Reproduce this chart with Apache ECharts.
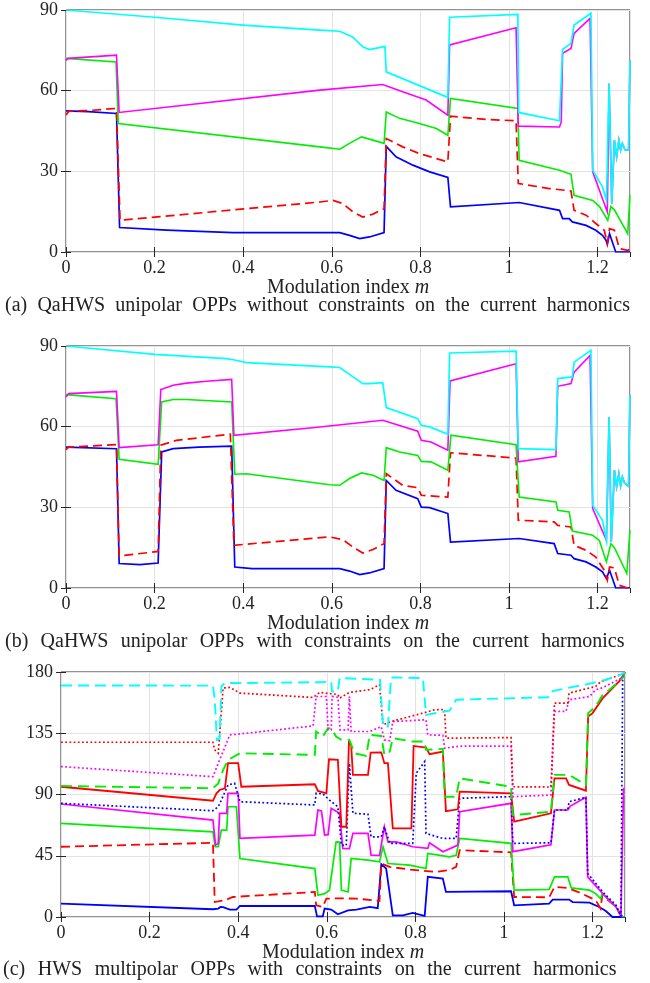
<!DOCTYPE html>
<html><head><meta charset="utf-8">
<script src="https://cdn.jsdelivr.net/npm/echarts@6/dist/echarts.min.js"></script>
<style>html,body{margin:0;padding:0;background:#fff}#c{width:650px;height:983px}</style>
</head><body><div id="c"></div>
<script>
const M_MAX = 1.2732;
const xTicks = [0, 0.2, 0.4, 0.6, 0.8, 1, 1.2];
const xTickLabels = ['0', '0.2', '0.4', '0.6', '0.8', '1', '1.2'];
const yTicksAB = [0, 30, 60, 90];
const yTicksC = [0, 45, 90, 135, 180];

// ---------- (a) ----------
const aBlue = [[0,52.5],[0.05,52.2],[0.114,51.5],[0.121,9.1],[0.227,8.1],[0.377,7.2],[0.573,7.2],[0.618,7.2],[0.64,6.2],[0.663,5.0],[0.685,5.6],[0.718,7.2],[0.723,39.3],[0.745,35.4],[0.783,32.3],[0.821,29.8],[0.862,27.7],[0.868,16.8],[1.023,18.4],[1.114,15.5],[1.121,12.4],[1.136,12.4],[1.143,11.2],[1.174,9.9],[1.196,8.1],[1.211,6.2],[1.219,4.4],[1.222,2.9],[1.227,6.8],[1.241,0],[1.273,0]];
const aRedD = [[0,51],[0.006,52.3],[0.05,52.6],[0.114,53.4],[0.122,11.8],[0.573,18.6],[0.603,19.2],[0.625,18],[0.648,14.9],[0.67,13],[0.693,14.1],[0.718,16.1],[0.723,42.2],[0.76,39.1],[0.798,36.6],[0.862,33.5],[0.868,50.5],[0.948,49.3],[1.016,48.8],[1.021,25.5],[1.023,24.8],[1.091,23.6],[1.14,22.7],[1.147,15.5],[1.174,13.7],[1.196,10.6],[1.215,8.1],[1.222,3.1],[1.227,8.7],[1.238,8.1],[1.249,1.3],[1.268,0.6],[1.273,1]];
const aGreen = [[0,72],[0.113,70.7],[0.118,47.8],[0.573,39.1],[0.618,38.2],[0.64,40.4],[0.667,42.8],[0.693,41.6],[0.718,40.4],[0.723,52.1],[0.753,49.7],[0.798,47.8],[0.836,45.9],[0.862,43.4],[0.868,57.1],[1.02,53.4],[1.023,34.1],[1.114,30.4],[1.14,28.9],[1.147,21.1],[1.189,19.2],[1.204,17.0],[1.223,11.8],[1.23,16.9],[1.238,15.7],[1.268,6.8],[1.273,21.1]];
const aMag = [[0,71.3],[0.005,72],[0.114,73.2],[0.12,51.9],[0.573,60.2],[0.715,62.3],[0.76,59.6],[0.813,56.5],[0.862,50.9],[0.866,77],[1.016,83.4],[1.021,46.8],[1.114,46.5],[1.118,48.3],[1.121,73.9],[1.14,75.7],[1.147,81.3],[1.183,86.9],[1.189,29.8],[1.222,14.9],[1.226,62.7],[1.232,18],[1.238,41.6],[1.243,35.4],[1.248,41.6],[1.252,37.9],[1.256,40.3],[1.262,38],[1.27,37.9],[1.273,71.3]];
const aCyan = [[0,90],[0.2,87.3],[0.4,84.4],[0.573,82.5],[0.618,82.1],[0.647,80],[0.67,76.3],[0.685,75.3],[0.715,76.3],[0.72,76.4],[0.723,67],[0.862,57.5],[0.866,87.3],[1.02,88.4],[1.022,51.9],[1.114,48.8],[1.121,75.3],[1.14,77.6],[1.147,84.4],[1.185,88.8],[1.189,30.4],[1.211,24.2],[1.22,19.2],[1.226,62.7],[1.232,18],[1.238,41.6],[1.243,35.4],[1.248,41.6],[1.252,37.9],[1.256,40.3],[1.262,38],[1.27,37.9],[1.273,71.3]];

// ---------- (b) ----------
const bBlue = [[0,52.4],[0.114,51.8],[0.12,9.1],[0.167,8.7],[0.208,9.3],[0.216,50.6],[0.242,51.8],[0.3,52.4],[0.374,52.8],[0.381,7.8],[0.42,7.2],[0.573,7.2],[0.618,7.2],[0.64,6.3],[0.663,5],[0.685,5.6],[0.718,7.2],[0.723,40],[0.745,36.3],[0.794,33.2],[0.802,30.1],[0.821,29.9],[0.862,27.7],[0.868,17.1],[1.023,18.4],[1.102,16.5],[1.11,12.8],[1.14,12.2],[1.147,10.9],[1.174,9.7],[1.196,7.8],[1.211,6],[1.22,3.5],[1.227,6.6],[1.241,0],[1.273,0]];
const bRedD = [[0,51.5],[0.006,52.4],[0.114,53.3],[0.12,11.9],[0.208,13.6],[0.214,53.1],[0.249,54.9],[0.371,57.2],[0.379,15.9],[0.595,19],[0.625,18],[0.648,15.2],[0.67,13],[0.693,14.3],[0.718,16.5],[0.723,42.5],[0.76,38.2],[0.794,37.3],[0.802,34.5],[0.862,33.8],[0.868,50.3],[1.016,48.3],[1.021,25.2],[1.102,24.6],[1.11,23.3],[1.14,22.7],[1.147,15.9],[1.174,14],[1.196,11.5],[1.215,6.6],[1.222,2.9],[1.227,7.8],[1.238,7.5],[1.249,1],[1.268,0],[1.273,0.5]];
const bGreen = [[0,71.9],[0.113,70.4],[0.12,47.9],[0.208,46],[0.216,69.2],[0.242,70.1],[0.272,70.1],[0.374,69.2],[0.381,42.3],[0.407,42.5],[0.595,38.4],[0.618,38.2],[0.64,40.7],[0.667,42.8],[0.693,41.9],[0.718,40],[0.723,52.2],[0.753,50.6],[0.794,49.3],[0.802,47.1],[0.824,46.9],[0.862,43.8],[0.869,56.8],[1.016,53.3],[1.023,33.8],[1.106,32],[1.11,28.9],[1.136,28.3],[1.143,21.2],[1.189,19.6],[1.204,17.7],[1.22,9.7],[1.23,16.5],[1.238,15],[1.266,5.4],[1.273,21.5]];
const bMag = [[0,71],[0.006,72.3],[0.114,73.1],[0.12,52.2],[0.208,53.3],[0.214,73.8],[0.242,75.4],[0.272,76.2],[0.317,76.9],[0.374,77.6],[0.379,56.8],[0.573,59.9],[0.715,62.4],[0.794,58.3],[0.802,54.9],[0.824,54.3],[0.862,51.2],[0.867,77],[1.016,83.4],[1.021,46.9],[1.106,49],[1.11,75],[1.14,76],[1.147,80.3],[1.183,86.5],[1.189,29.5],[1.22,17.7],[1.226,63.6],[1.231,17.1],[1.238,43.8],[1.243,37.6],[1.248,42.5],[1.252,37.9],[1.256,41.3],[1.261,39],[1.27,37.8],[1.273,71.7]];
const bCyan = [[0,90],[0.2,86.9],[0.362,85.3],[0.381,84.8],[0.407,83.8],[0.595,82.2],[0.618,82],[0.648,78.5],[0.67,76],[0.685,76],[0.715,76.4],[0.723,67.1],[0.794,63],[0.802,60.5],[0.821,59.9],[0.862,57.2],[0.866,87.4],[1.016,88.1],[1.021,51.8],[1.106,51.5],[1.11,77.9],[1.143,78.5],[1.147,84],[1.185,88.4],[1.189,30.8],[1.211,25.2],[1.22,17.7],[1.226,63.6],[1.231,17.1],[1.238,43.8],[1.243,37.6],[1.248,42.5],[1.252,37.9],[1.256,41.3],[1.261,39],[1.27,37.8],[1.273,71.7]];

// ---------- (c) ----------
const cBlue = [[0,9.9],[0.343,5.7],[0.355,6.2],[0.36,7.4],[0.366,7.2],[0.381,5.4],[0.396,5.4],[0.404,8.1],[0.573,8.1],[0.578,0.5],[0.591,0.5],[0.595,6.2],[0.61,5.5],[0.625,2],[0.648,4.9],[0.667,5.4],[0.697,7.4],[0.715,6.5],[0.723,38.8],[0.734,35.6],[0.749,1.2],[0.772,1.2],[0.794,3],[0.821,0.9],[0.828,29.5],[0.862,28.3],[0.869,18.4],[1.016,18.9],[1.023,8.6],[1.102,9.9],[1.11,12.8],[1.147,12.8],[1.155,11],[1.193,10.5],[1.215,7.4],[1.23,4.4],[1.245,0],[1.268,0],[1.273,0]];
const cRedD = [[0,51.6],[0.343,54.5],[0.347,11],[0.37,12.3],[0.388,14.7],[0.573,18.4],[0.576,8.6],[0.591,7.4],[0.599,13.5],[0.625,13.7],[0.667,13.5],[0.719,11.8],[0.723,39.3],[0.742,36.8],[0.787,34.9],[0.847,33.1],[0.877,34.5],[0.892,36.8],[0.9,49.1],[1.016,47.5],[1.023,14.7],[1.102,14.5],[1.114,22.1],[1.144,21.3],[1.176,17.2],[1.207,12.3],[1.218,6.2],[1.222,16],[1.253,7.4],[1.268,0],[1.273,0]];
const cGreen = [[0,68.8],[0.343,62.6],[0.348,51.6],[0.355,51.6],[0.362,63.9],[0.374,63.9],[0.377,81],[0.396,81],[0.404,43],[0.573,35.6],[0.58,16],[0.595,17.2],[0.606,19.7],[0.621,55.2],[0.629,55],[0.633,19.7],[0.648,18.4],[0.655,43],[0.693,41.8],[0.719,40.5],[0.727,51.6],[0.738,39.3],[0.787,38.1],[0.824,35.6],[0.828,46.7],[0.877,44.2],[0.892,45.4],[0.9,57.7],[1.016,54.1],[1.023,19.7],[1.102,20.3],[1.114,29.5],[1.144,29.5],[1.152,21.4],[1.193,19.7],[1.207,17.2],[1.218,13.5],[1.222,17.2],[1.253,7.4],[1.264,0.5],[1.273,0]];
const cMag = [[0,83],[0.343,71.2],[0.349,52.8],[0.355,54.1],[0.358,76.2],[0.374,76.2],[0.377,90.9],[0.4,90.9],[0.404,57.7],[0.573,60.2],[0.58,78.6],[0.588,78],[0.595,60.2],[0.603,60.5],[0.61,79.8],[0.629,76.2],[0.636,50.4],[0.651,50.2],[0.659,61.4],[0.693,61.4],[0.7,45.4],[0.719,45.2],[0.73,66.3],[0.738,55.2],[0.757,55.2],[0.794,51.6],[0.828,50.4],[0.832,54.5],[0.862,47.9],[0.896,52.8],[0.9,77.3],[1.016,83.5],[1.02,48],[1.106,53],[1.114,78.6],[1.144,78.6],[1.15,81.5],[1.185,88],[1.189,29.5],[1.223,17.2],[1.253,7.4],[1.264,0.6],[1.27,95]];
const cBlueDot = [[0,83.5],[0.343,78.1],[0.355,81],[0.362,85.9],[0.377,97],[0.392,98.2],[0.404,84.7],[0.573,82.3],[0.576,90.9],[0.591,90.5],[0.606,85.9],[0.625,81],[0.633,52.8],[0.644,52.5],[0.651,113],[0.659,76.2],[0.693,75.5],[0.7,58.9],[0.723,58.9],[0.73,66.3],[0.742,54.1],[0.794,54.1],[0.802,105.6],[0.821,114.2],[0.824,61.4],[0.862,57.7],[0.892,57.7],[0.9,87.2],[1.016,88.4],[1.02,54.1],[1.106,54.5],[1.114,78.6],[1.144,78.6],[1.147,84.7],[1.185,87.9],[1.189,32],[1.223,18.4],[1.253,8.6],[1.264,0.5],[1.268,178],[1.273,180]];
const cRedS = [[0,95.7],[0.343,85.4],[0.351,90.9],[0.358,93.3],[0.37,94.6],[0.377,113],[0.4,113],[0.407,95.7],[0.573,97.5],[0.58,92.6],[0.599,90.9],[0.605,115.9],[0.625,115.4],[0.633,66.3],[0.644,66.3],[0.65,128.2],[0.655,126.5],[0.659,104.4],[0.693,104.4],[0.699,120.8],[0.723,121],[0.73,113],[0.738,113],[0.749,65.1],[0.791,65.1],[0.796,125.7],[0.824,124.5],[0.832,119.6],[0.862,121.5],[0.869,77.8],[0.896,79.1],[0.9,92.1],[1.016,90.9],[1.023,70],[1.106,76.2],[1.114,101.9],[1.14,101.9],[1.147,97],[1.185,92.8],[1.19,147.3],[1.2,149.8],[1.223,160.8],[1.238,165.7],[1.26,173.1],[1.268,176.8],[1.273,180]];
const cGreenD = [[0,96.3],[0.343,94.6],[0.355,98.2],[0.366,108],[0.377,115.4],[0.404,120.3],[0.573,119.1],[0.576,136.3],[0.591,132.6],[0.603,138.8],[0.61,138.5],[0.621,132.6],[0.633,130.1],[0.651,130.1],[0.663,120.3],[0.689,118.4],[0.697,133.8],[0.723,133],[0.73,119.1],[0.742,121.5],[0.749,131.4],[0.794,128.9],[0.821,128.9],[0.824,122.8],[0.862,123.5],[0.866,88.4],[0.892,88.4],[0.9,101.9],[1.016,95.7],[1.02,74.9],[1.106,77.3],[1.114,104.4],[1.147,104.4],[1.185,97],[1.19,149.8],[1.207,154.7],[1.223,163.3],[1.238,167],[1.268,175.6],[1.273,180]];
const cMagDot = [[0,110.5],[0.343,103.1],[0.358,115.4],[0.374,128],[0.381,133.8],[0.404,134.5],[0.569,140.4],[0.576,162],[0.599,162],[0.603,137.5],[0.61,137.5],[0.612,162],[0.625,161.5],[0.63,137.5],[0.648,137.5],[0.651,162],[0.655,136.3],[0.697,136.3],[0.723,139.9],[0.73,130.1],[0.742,129.5],[0.749,143.6],[0.824,144.9],[0.828,133.8],[0.862,133.5],[0.866,124],[0.9,125.5],[1.016,125.5],[1.02,88.4],[1.106,89.6],[1.114,151],[1.14,151],[1.147,159.6],[1.193,162],[1.207,167],[1.223,168.5],[1.268,176],[1.273,180]];
const cRedDot = [[0,128.4],[0.343,128.4],[0.347,122.8],[0.355,120.3],[0.366,168.2],[0.381,168.7],[0.404,164.5],[0.569,161.3],[0.584,165],[0.625,163.5],[0.629,160.8],[0.651,165],[0.697,167],[0.719,170.6],[0.727,141.2],[0.745,143.6],[0.817,149.8],[0.843,152.2],[0.866,152.5],[0.869,131.4],[1.016,131.8],[1.02,95.7],[1.106,95.5],[1.114,157.2],[1.144,157.2],[1.147,164.5],[1.207,169.4],[1.215,171.9],[1.23,174.3],[1.264,178],[1.273,180]];
const cCyanD = [[0,170.1],[0.343,170],[0.347,160],[0.352,130],[0.358,131],[0.362,169.4],[0.37,171.9],[0.404,171.9],[0.584,172.5],[0.61,173],[0.612,165.7],[0.625,165.7],[0.629,175.6],[0.72,174.3],[0.727,140],[0.738,140],[0.745,176],[0.817,175.6],[0.824,148.5],[0.877,151.6],[0.892,159.6],[1.102,161.5],[1.11,166],[1.2,171.9],[1.23,174.3],[1.264,178],[1.273,180]];

const capA = ['(a)','QaHWS','unipolar','OPPs','without','constraints','on','the','current','harmonics'];
const capB = ['(b)','QaHWS','unipolar','OPPs','with','constraints','on','the','current','harmonics'];
const capC = ['(c)','HWS','multipolar','OPPs','with','constraints','on','the','current','harmonics'];

// ---------- chart ----------
const FONT = '"Liberation Serif","Times New Roman",serif';
const INK = '#222';
const BLUE = '#0000ff', RED = '#ff0000', GREEN = '#00ee00', MAG = '#ff00ff', CYAN = '#00ffff';

const grids = [
  {left: 66, top: 10, width: 564, height: 242},
  {left: 66, top: 346, width: 564, height: 242},
  {left: 61, top: 672, width: 564, height: 245}
].map(g => Object.assign({show: true, borderColor: '#262626', borderWidth: 1, backgroundColor: '#fff'}, g));

function xFmt(v) {
  const i = xTicks.findIndex(t => Math.abs(t - v) < 1e-6);
  return i >= 0 ? xTickLabels[i] : '';
}
const xAxes = [], yAxes = [];
for (let g = 0; g < 3; g++) {
  xAxes.push({
    type: 'value', gridIndex: g, min: 0, max: M_MAX, interval: 0.2, position: 'bottom',
    axisLine: {show: false}, axisTick: {inside: true, length: 5, lineStyle: {color: '#262626'}},
    splitLine: {show: true, lineStyle: {color: '#e3e3e3', width: 1}},
    axisLabel: {formatter: xFmt, fontFamily: FONT, fontSize: 18, color: INK, margin: 7, showMaxLabel: false},
    name: 'Modulation index {i|m}', nameLocation: 'middle', nameGap: 21,
    nameTextStyle: {fontFamily: FONT, fontSize: 20, color: INK,
      rich: {i: {fontFamily: FONT, fontSize: 20, fontStyle: 'italic', color: INK}}}
  });
  xAxes.push({
    type: 'value', gridIndex: g, min: 0, max: M_MAX, interval: 0.2, position: 'top',
    axisLine: {show: false}, axisTick: {inside: true, length: 5, lineStyle: {color: '#262626'}},
    splitLine: {show: false}, axisLabel: {show: false}
  });
}
for (let g = 0; g < 3; g++) {
  const ticks = g < 2 ? yTicksAB : yTicksC;
  const yMax = ticks[ticks.length - 1], yInt = ticks[1] - ticks[0];
  yAxes.push({
    type: 'value', gridIndex: g, min: 0, max: yMax, interval: yInt, position: 'left',
    axisLine: {show: false}, axisTick: {inside: true, length: 5, lineStyle: {color: '#262626'}},
    splitLine: {show: true, lineStyle: {color: '#e3e3e3', width: 1}},
    axisLabel: {fontFamily: FONT, fontSize: 18, color: INK, margin: 8,
      formatter: v => ticks.includes(v) ? String(v) : ''}
  });
  yAxes.push({
    type: 'value', gridIndex: g, min: 0, max: yMax, interval: yInt, position: 'right',
    axisLine: {show: false}, axisTick: {inside: true, length: 5, lineStyle: {color: '#262626'}},
    splitLine: {show: false}, axisLabel: {show: false}
  });
}

function line(g, data, color, type, width) {
  return {
    type: 'line', xAxisIndex: g * 2, yAxisIndex: g * 2, data: data,
    showSymbol: false, symbol: 'none', animation: false, clip: true,
    lineStyle: {color: color, width: width, type: type, cap: 'butt', join: 'miter'}
  };
}
const DASH = [9, 5], DOT = [1.8, 2.4], LDASH = [11, 6];
const series = [
  line(0, aBlue, BLUE, 'solid', 1.7),
  line(0, aRedD, RED, DASH, 1.7),
  line(0, aGreen, GREEN, 'solid', 1.6),
  line(0, aMag, MAG, 'solid', 1.6),
  line(0, aCyan, CYAN, 'solid', 1.7),
  line(1, bBlue, BLUE, 'solid', 1.7),
  line(1, bRedD, RED, DASH, 1.7),
  line(1, bGreen, GREEN, 'solid', 1.6),
  line(1, bMag, MAG, 'solid', 1.6),
  line(1, bCyan, CYAN, 'solid', 1.7),
  line(2, cBlue, BLUE, 'solid', 1.8),
  line(2, cRedD, RED, DASH, 1.8),
  line(2, cGreen, GREEN, 'solid', 1.7),
  line(2, cMag, MAG, 'solid', 1.7),
  line(2, cBlueDot, BLUE, DOT, 1.7),
  line(2, cRedS, RED, 'solid', 1.8),
  line(2, cGreenD, GREEN, LDASH, 1.9),
  line(2, cMagDot, MAG, DOT, 1.7),
  line(2, cRedDot, RED, DOT, 1.7),
  line(2, cCyanD, CYAN, LDASH, 1.9)
];

function caption(words, gap, left, top) {
  return {
    text: words.map(w => '{t|' + w + '}').join('{g| }'),
    left: left, top: top,
    textStyle: {
      fontWeight: 'normal',
      rich: {
        t: {fontFamily: FONT, fontSize: 20, fontWeight: 'normal', color: INK},
        g: {fontFamily: FONT, fontSize: 20, fontWeight: 'normal', width: gap}
      }
    }
  };
}

const chart = echarts.init(document.getElementById('c'), null, {renderer: 'canvas'});
chart.setOption({
  animation: false,
  backgroundColor: '#fff',
  title: [caption(capA, 10.2, 0, 291), caption(capB, 12.3, 0, 627), caption(capC, 12.5, -2, 955)],
  grid: grids,
  xAxis: xAxes,
  yAxis: yAxes,
  series: series
});
</script>
</body></html>
